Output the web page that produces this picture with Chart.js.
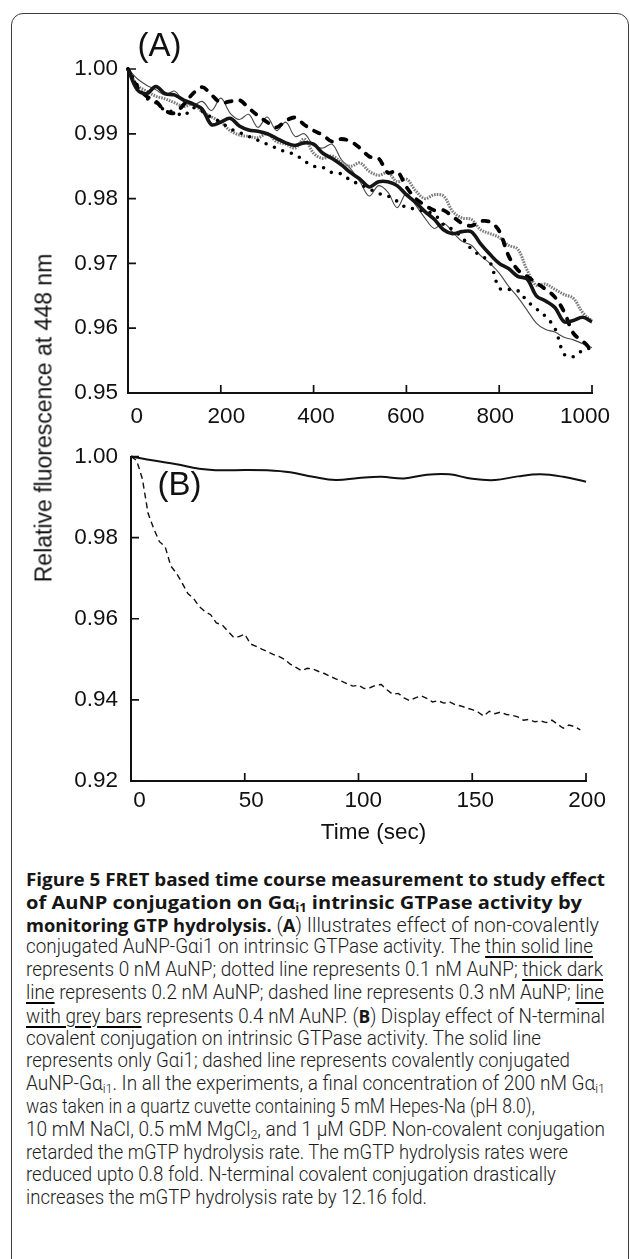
<!DOCTYPE html>
<html>
<head>
<meta charset="utf-8">
<script src="https://cdn.jsdelivr.net/npm/chart.js@4.4.1/dist/chart.umd.min.js"></script>
<style>
  html, body { margin: 0; padding: 0; background: #fff; }
  body { width: 630px; height: 1259px; position: relative; overflow: hidden; }
  .frame { position: absolute; left: 11px; top: 13px; width: 618px; height: 1300px;
           border: 1.5px solid #3c3c3c; border-radius: 12px; box-sizing: border-box; }
  canvas { position: absolute; left: 0; }
  .t { position: absolute; white-space: nowrap; line-height: 1; color: #111;
       font-family: 'Liberation Sans', Arial, sans-serif; transform: translate(-50%, -50%); }
  #lblA { left: 159.5px; top: 44px; font-size: 33px; }
  #lblB { left: 179.5px; top: 483px; font-size: 33px; }
  #ytitle { left: 44px; top: 418px; font-size: 23px; transform: translate(-50%, -50%) rotate(-90deg); }
  #xtitle { left: 373.5px; top: 832px; font-size: 22.5px; }
  .cap { position: absolute; left: 26px; top: 868px; }
  .ln { height: 22.8px; line-height: 22.8px; white-space: nowrap; }
  .ln > span { display: inline-block; transform-origin: 0 50%; font-family: Roboto, sans-serif;
               font-weight: 300; font-size: 19.8px; color: #1c1c1c; }
  .ln b { font-family: 'Open Sans', sans-serif; font-weight: 700; font-size: 18.3px; color: #161616; }
  .ln u { text-decoration-thickness: 2px; text-underline-offset: 3px; text-decoration-color: #000; }
  .ln sub { font-size: 0.65em; vertical-align: -0.25em; line-height: 0; }
</style>
</head>
<body>
<div class="frame"></div>
<canvas id="chartA" width="630" height="430" style="top:0"></canvas>
<canvas id="chartB" width="630" height="430" style="top:430px"></canvas>
<div class="t" id="lblA">(A)</div>
<div class="t" id="lblB">(B)</div>
<div class="t" id="ytitle">Relative fluorescence at 448 nm</div>
<div class="t" id="xtitle">Time (sec)</div>

<div class="cap">
  <div class="ln" data-end="605"><span><b>Figure 5 FRET based time course measurement to study effect</b></span></div>
  <div class="ln" data-end="582"><span><b>of AuNP conjugation on Gα<sub>i1</sub> intrinsic GTPase activity by</b></span></div>
  <div class="ln" data-end="599"><span><b>monitoring GTP hydrolysis.</b> (<b>A</b>) Illustrates effect of non-covalently</span></div>
  <div class="ln" data-end="593"><span>conjugated AuNP-Gαi1 on intrinsic GTPase activity. The <u>thin solid line</u></span></div>
  <div class="ln" data-end="603"><span>represents 0 nM AuNP; dotted line represents 0.1 nM AuNP; <u>thick dark</u></span></div>
  <div class="ln" data-end="604"><span><u>line</u> represents 0.2 nM AuNP; dashed line represents 0.3 nM AuNP; <u>line</u></span></div>
  <div class="ln" data-end="605"><span><u>with grey bars</u> represents 0.4 nM AuNP. (<b>B</b>) Display effect of N-terminal</span></div>
  <div class="ln" data-end="541"><span>covalent conjugation on intrinsic GTPase activity. The solid line</span></div>
  <div class="ln" data-end="570"><span>represents only Gαi1; dashed line represents covalently conjugated</span></div>
  <div class="ln" data-end="605"><span>AuNP-Gα<sub>i1</sub>. In all the experiments, a final concentration of 200 nM Gα<sub>i1</sub></span></div>
  <div class="ln" data-end="535"><span>was taken in a quartz cuvette containing 5 mM Hepes-Na (pH 8.0),</span></div>
  <div class="ln" data-end="605"><span>10 mM NaCl, 0.5 mM MgCl<sub>2</sub>, and 1 μM GDP. Non-covalent conjugation</span></div>
  <div class="ln" data-end="568"><span>retarded the mGTP hydrolysis rate. The mGTP hydrolysis rates were</span></div>
  <div class="ln" data-end="556"><span>reduced upto 0.8 fold. N-terminal covalent conjugation drastically</span></div>
  <div class="ln" data-end="427"><span>increases the mGTP hydrolysis rate by 12.16 fold.</span></div>
</div>

<script>
// panel A: time (sec) and relative fluorescence for each AuNP concentration
const timeA = [0, 20, 40, 60, 80, 100, 120, 140, 160, 180, 200, 220, 240, 260, 280, 300, 320, 340, 360, 380,
  400, 420, 440, 460, 480, 500, 520, 540, 560, 580, 600, 620, 640, 660, 680, 700, 720, 740, 760, 780,
  800, 820, 840, 860, 880, 900, 920, 940, 960, 980, 1000, 1010];

const thin0nM = [1.0000, 0.9985, 0.9975, 0.9968, 0.9960, 0.9966, 0.9950, 0.9944, 0.9950, 0.9936,
  0.9955, 0.9932, 0.9922, 0.9930, 0.9910, 0.9926, 0.9905, 0.9918, 0.9896, 0.9900,
  0.9882, 0.9878, 0.9884, 0.9860, 0.9846, 0.9826, 0.9804, 0.9820, 0.9810, 0.9786,
  0.9808, 0.9790, 0.9770, 0.9754, 0.9762, 0.9748, 0.9734, 0.9728, 0.9712, 0.9700,
  0.9685, 0.9665, 0.9648, 0.9628, 0.9608, 0.9598, 0.9594, 0.9586, 0.9582, 0.9576, 0.9570, 0.9566];

const dotted01nM = [1.0000, 0.9975, 0.9955, 0.9948, 0.9936, 0.9934, 0.9928, 0.9940, 0.9935, 0.9925,
  0.9918, 0.9908, 0.9902, 0.9896, 0.9890, 0.9884, 0.9878, 0.9872, 0.9868, 0.9858,
  0.9850, 0.9848, 0.9840, 0.9838, 0.9828, 0.9822, 0.9815, 0.9808, 0.9804, 0.9796,
  0.9786, 0.9784, 0.9780, 0.9776, 0.9760, 0.9752, 0.9740, 0.9722, 0.9712, 0.9702,
  0.9662, 0.9660, 0.9658, 0.9642, 0.9630, 0.9618, 0.9600, 0.9560, 0.9556, 0.9566, 0.9570, 0.9572];

const thick02nM = [1.0000, 0.9968, 0.9962, 0.9973, 0.9962, 0.9960, 0.9952, 0.9946, 0.9938, 0.9914,
  0.9918, 0.9924, 0.9912, 0.9906, 0.9904, 0.9900, 0.9893, 0.9886, 0.9882, 0.9886,
  0.9884, 0.9870, 0.9862, 0.9852, 0.9840, 0.9830, 0.9818, 0.9826, 0.9826, 0.9820,
  0.9806, 0.9794, 0.9780, 0.9768, 0.9752, 0.9746, 0.9749, 0.9749, 0.9730, 0.9714,
  0.9700, 0.9692, 0.9680, 0.9676, 0.9650, 0.9642, 0.9632, 0.9610, 0.9612, 0.9617, 0.9610, 0.9608];

const dashed03nM = [1.0000, 0.9972, 0.9958, 0.9950, 0.9936, 0.9932, 0.9945, 0.9962, 0.9972, 0.9960,
  0.9948, 0.9950, 0.9952, 0.9940, 0.9928, 0.9918, 0.9910, 0.9920, 0.9925, 0.9914,
  0.9905, 0.9898, 0.9888, 0.9892, 0.9888, 0.9878, 0.9865, 0.9862, 0.9840, 0.9842,
  0.9818, 0.9800, 0.9790, 0.9782, 0.9782, 0.9772, 0.9762, 0.9758, 0.9765, 0.9764,
  0.9750, 0.9712, 0.9690, 0.9680, 0.9670, 0.9660, 0.9648, 0.9625, 0.9592, 0.9580, 0.9565, 0.9554];

const greyBars04nM = [1.0000, 0.9975, 0.9966, 0.9958, 0.9954, 0.9948, 0.9942, 0.9946, 0.9934, 0.9926,
  0.9918, 0.9905, 0.9898, 0.9896, 0.9894, 0.9900, 0.9888, 0.9884, 0.9878, 0.9892,
  0.9870, 0.9862, 0.9866, 0.9856, 0.9850, 0.9855, 0.9842, 0.9836, 0.9840, 0.9826,
  0.9830, 0.9812, 0.9800, 0.9806, 0.9804, 0.9780, 0.9770, 0.9768, 0.9752, 0.9746,
  0.9740, 0.9728, 0.9722, 0.9690, 0.9666, 0.9668, 0.9660, 0.9652, 0.9646, 0.9624, 0.9612, 0.9612];

// panel B: only Gai1 (solid) and covalently conjugated AuNP-Gai1 (dashed)
const timeBSolid = [0, 10, 20, 30, 40, 50, 60, 70, 80, 90, 100, 110, 120, 130, 140, 150, 160, 170, 180, 190, 200];
const onlyGai1 = [1.0000, 0.9990, 0.9981, 0.9970, 0.9966, 0.9967, 0.9966, 0.9961, 0.9950, 0.9942,
  0.9947, 0.9950, 0.9946, 0.9955, 0.9956, 0.9945, 0.9942, 0.9951, 0.9956, 0.9950, 0.9938];

const timeBDashed = [0, 2.5, 5, 7.5, 10, 12.5, 15, 17.5, 20, 22.5, 25, 27.5, 30, 32.5, 35, 37.5, 40, 42.5, 45, 47.5,
  50, 52.5, 55, 57.5, 60, 62.5, 65, 67.5, 70, 72.5, 75, 77.5, 80, 82.5, 85, 87.5, 90, 92.5, 95, 97.5,
  100, 102.5, 105, 107.5, 110, 112.5, 115, 117.5, 120, 122.5, 125, 127.5, 130, 132.5, 135, 137.5, 140, 142.5, 145, 147.5,
  150, 152.5, 155, 157.5, 160, 162.5, 165, 167.5, 170, 172.5, 175, 177.5, 180, 182.5, 185, 187.5, 190, 192.5, 195, 197.5];
const auNPGai1 = [1.0000, 0.9990, 0.9945, 0.9860, 0.9822, 0.9790, 0.9778, 0.9730, 0.9712, 0.9688,
  0.9662, 0.9650, 0.9630, 0.9618, 0.9610, 0.9590, 0.9585, 0.9570, 0.9555, 0.9556,
  0.9562, 0.9538, 0.9532, 0.9525, 0.9519, 0.9512, 0.9507, 0.9500, 0.9488, 0.9480,
  0.9472, 0.9478, 0.9476, 0.9470, 0.9465, 0.9458, 0.9452, 0.9446, 0.9440, 0.9434,
  0.9436, 0.9428, 0.9430, 0.9436, 0.9438, 0.9425, 0.9414, 0.9416, 0.9405, 0.9398,
  0.9405, 0.9410, 0.9404, 0.9395, 0.9398, 0.9392, 0.9395, 0.9388, 0.9385, 0.9380,
  0.9376, 0.9370, 0.9360, 0.9372, 0.9366, 0.9370, 0.9364, 0.9362, 0.9358, 0.9350,
  0.9352, 0.9346, 0.9348, 0.9344, 0.9350, 0.9340, 0.9330, 0.9338, 0.9334, 0.9326];

// tick values
const xTicksA = [0, 200, 400, 600, 800, 1000];
const yTicksA = [0.95, 0.96, 0.97, 0.98, 0.99, 1.00];
const xTicksB = [0, 50, 100, 150, 200];
const yTicksB = [0.92, 0.94, 0.96, 0.98, 1.00];

const tickFont = { family: "'Liberation Sans', Arial, sans-serif", size: 22.5 };

function pts(xs, ys) {
  return xs.map((x, i) => ({ x: x, y: ys[i] }));
}

// tick marks point inward, like the original plot
const innerTicks = {
  id: 'innerTicks',
  afterDatasetsDraw(chart) {
    const ctx = chart.ctx;
    const area = chart.chartArea;
    const xs = chart.scales.x;
    const ys = chart.scales.y;
    ctx.save();
    ctx.strokeStyle = '#111';
    ctx.lineWidth = 1.7;
    ctx.beginPath();
    xs.ticks.forEach(t => {
      const px = xs.getPixelForValue(t.value);
      ctx.moveTo(px, area.bottom);
      ctx.lineTo(px, area.bottom - 8);
    });
    ys.ticks.forEach(t => {
      const py = ys.getPixelForValue(t.value);
      ctx.moveTo(area.left, py);
      ctx.lineTo(area.left + 8, py);
    });
    ctx.stroke();
    ctx.restore();
  }
};

function makeChart(id, c) {
  return new Chart(document.getElementById(id), {
    type: 'line',
    data: { datasets: c.datasets },
    options: {
      responsive: false,
      animation: false,
      devicePixelRatio: 1,
      layout: { padding: c.padding },
      elements: { point: { radius: 0 } },
      plugins: { legend: { display: false }, tooltip: { enabled: false } },
      scales: {
        x: {
          type: 'linear', position: 'bottom', weight: 0, min: c.xMin, max: c.xMax,
          afterBuildTicks: s => { s.ticks = c.xTicks.map(v => ({ value: v })); },
          afterFit: s => { s.height = 0; },
          ticks: { display: false },
          grid: { display: false, drawTicks: false },
          border: { display: true, color: '#111', width: 2 }
        },
        // label row; its range is a little wider, the original labels sit slightly off their ticks
        xl: {
          type: 'linear', position: 'bottom', weight: 1, min: c.labMin, max: c.labMax,
          afterBuildTicks: s => { s.ticks = c.xTicks.map(v => ({ value: v })); },
          afterFit: s => { s.height = c.labH; },
          ticks: { font: tickFont, color: '#111', padding: c.xPad, maxRotation: 0, autoSkip: false,
                   labelOffset: c.labOff, callback: v => String(v) },
          grid: { display: false, drawTicks: false },
          border: { display: false }
        },
        y: {
          type: 'linear', min: c.yMin, max: c.yMax,
          afterBuildTicks: s => { s.ticks = c.yTicks.map(v => ({ value: v })); },
          afterFit: s => { s.width = c.yW; },
          ticks: { font: tickFont, color: '#111', padding: c.yPad, callback: v => v.toFixed(2) },
          grid: { display: false, drawTicks: false },
          border: { display: true, color: '#111', width: 2 }
        }
      }
    },
    plugins: [innerTicks]
  });
}

makeChart('chartA', {
  padding: { top: 69, right: 38, bottom: 0, left: 0 },
  xMin: 0, xMax: 1000, yMin: 0.95, yMax: 1.00,
  xTicks: xTicksA, yTicks: yTicksA,
  labMin: -19.5, labMax: 1015.8, labOff: 0, labH: 37, xPad: 10,
  yW: 128, yPad: 10,
  datasets: [
    { label: '0.2 nM AuNP', data: pts(timeA, thick02nM), borderColor: '#151515', borderWidth: 3.6,
      tension: 0.35, clip: false },
    { label: '0.3 nM AuNP', data: pts(timeA, dashed03nM), borderColor: '#000', borderWidth: 3.8,
      borderDash: [6, 9], borderCapStyle: 'round', tension: 0.35, clip: false },
    { label: '0.1 nM AuNP', data: pts(timeA, dotted01nM), borderColor: '#000', borderWidth: 3.6,
      borderDash: [0, 9], borderCapStyle: 'round', tension: 0.35, clip: false },
    { label: '0.4 nM AuNP', data: pts(timeA, greyBars04nM), borderColor: '#7d7d7d', borderWidth: 3,
      borderDash: [1.6, 1.1], tension: 0.35, clip: false },
    { label: '0 nM AuNP', data: pts(timeA, thin0nM), borderColor: '#4a4a4a', borderWidth: 1.1,
      tension: 0.35, clip: false }
  ]
});

makeChart('chartB', {
  padding: { top: 22, right: 44, bottom: 0, left: 0 },
  xMin: 0, xMax: 200, yMin: 0.92, yMax: 1.00,
  xTicks: xTicksB, yTicks: yTicksB,
  labMin: -2.97, labMax: 200.3, labOff: 1.8, labH: 79, xPad: 6,
  yW: 131, yPad: 13,
  datasets: [
    { label: 'Gai1', data: pts(timeBSolid, onlyGai1), borderColor: '#111', borderWidth: 2,
      tension: 0.4, clip: false },
    { label: 'AuNP-Gai1', data: pts(timeBDashed, auNPGai1), borderColor: '#111', borderWidth: 1.4,
      borderDash: [6, 4], tension: 0, clip: false }
  ]
});

// squeeze each caption line to the width it has in the figure
function fitCaption() {
  document.querySelectorAll('.ln').forEach(ln => {
    const span = ln.firstElementChild;
    span.style.transform = 'none';
    const w = span.getBoundingClientRect().width;
    const target = +ln.dataset.end - 26;
    span.style.transform = 'scaleX(' + (target / w) + ')';
  });
}
fitCaption();
document.fonts.ready.then(fitCaption);
</script>
</body>
</html>
